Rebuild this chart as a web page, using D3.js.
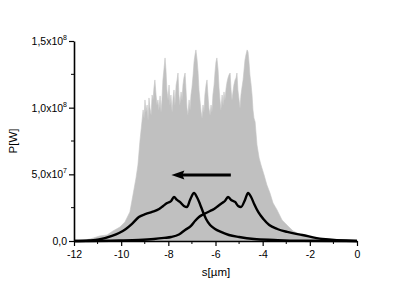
<!DOCTYPE html>
<html>
<head>
<meta charset="utf-8">
<script src="https://cdn.jsdelivr.net/npm/d3@7"></script>
<style>
  body { margin: 0; background: #fff; }
  text { font-family: "Liberation Sans", Arial, sans-serif; }
</style>
</head>
<body>
<div id="chart"></div>
<script>
/* global d3:false */
(function() {

// gray envelope of all single-shot traces: s [um], P [1e7 W]
var envS = [-11.75, -11.32, -10.90, -10.60, -10.35, -10.05, -9.84, -9.63, -9.50, -9.37, -9.29,
  -9.20, -9.12, -9.07, -9.03, -8.99, -8.95, -8.90, -8.86, -8.82, -8.78, -8.73, -8.69, -8.65, -8.61,
  -8.57, -8.52, -8.48, -8.44, -8.40, -8.35, -8.31, -8.27, -8.23, -8.18, -8.14, -8.10, -8.06, -8.01,
  -7.97, -7.93, -7.89, -7.84, -7.80, -7.76, -7.72, -7.67, -7.63, -7.59, -7.55, -7.51, -7.46, -7.42,
  -7.38, -7.34, -7.29, -7.25, -7.21, -7.17, -7.12, -7.08, -7.04, -7.00, -6.95, -6.91, -6.87, -6.83,
  -6.78, -6.74, -6.70, -6.66, -6.61, -6.57, -6.53, -6.49, -6.45, -6.40, -6.36, -6.32, -6.28, -6.23,
  -6.19, -6.15, -6.11, -6.06, -6.02, -5.98, -5.94, -5.89, -5.85, -5.81, -5.77, -5.72, -5.68, -5.64,
  -5.60, -5.55, -5.51, -5.47, -5.43, -5.38, -5.34, -5.30, -5.26, -5.22, -5.17, -5.13, -5.09, -5.05,
  -5.00, -4.96, -4.92, -4.88, -4.83, -4.79, -4.75, -4.71, -4.66, -4.62, -4.58, -4.54, -4.49, -4.45,
  -4.41, -4.37, -4.32, -4.24, -4.15, -4.07, -3.94, -3.82, -3.69, -3.56, -3.39, -3.18, -2.93, -2.71,
  -2.54, -2.29, -2.00, -1.57, -1.14, -0.51];
var envP = [0, 0.15, 0.38, 0.45, 0.75, 1.05, 1.43, 2.18, 3.45, 4.73, 5.70,
  7.58, 8.93, 9.83, 9.23, 10.58, 9.68, 10.20, 9.08, 10.73, 9.98, 9.45, 10.95, 10.58, 11.48,
  12.08, 10.95, 10.20, 10.58, 9.83, 10.88, 9.68, 10.58, 12.08, 12.98, 13.73, 12.83, 11.33, 10.58,
  11.70, 10.20, 10.95, 9.68, 10.73, 11.33, 10.20, 11.70, 12.08, 12.60, 10.95, 10.20, 11.18, 10.58,
  11.70, 12.23, 12.60, 11.33, 9.98, 9.45, 10.58, 9.83, 10.95, 11.48, 12.45, 13.43, 13.95, 14.33,
  13.58, 12.68, 11.33, 10.58, 9.68, 9.23, 10.20, 9.68, 10.95, 11.70, 12.08, 10.95, 9.98, 9.45,
  10.20, 9.68, 10.95, 11.70, 12.68, 13.43, 13.73, 12.83, 11.48, 10.58, 9.83, 10.95, 10.20, 11.18,
  10.58, 11.48, 11.93, 12.23, 12.45, 12.60, 11.33, 10.58, 11.18, 11.70, 12.08, 12.23, 12.60, 11.33,
  10.58, 9.98, 10.95, 11.48, 12.08, 12.83, 13.58, 13.95, 14.33, 14.18, 13.43, 12.45, 11.70, 10.95,
  9.83, 9.23, 8.93, 7.20, 6.23, 5.70, 4.95, 4.20, 3.60, 2.85, 2.33, 1.58, 1.13, 0.75,
  0.60, 0.45, 0.30, 0.15, 0.075, 0];

// averaged profile, earlier position (left), P [W]
var leftS = [-12.0, -11.36, -10.94, -10.39, -10.09, -9.80, -9.54, -9.25, -8.95, -8.69, -8.39, -8.22,
  -8.05, -7.88, -7.76, -7.63, -7.51, -7.34, -7.21, -7.08, -6.91, -6.79, -6.66, -6.53, -6.40, -6.23,
  -6.02, -5.77, -5.43, -5.00, -4.37, -3.52, -2.46, 0];
var leftP = [0, 0.04e7, 0.11e7, 0.38e7, 0.60e7, 0.90e7, 1.28e7, 1.80e7, 2.03e7, 2.18e7, 2.40e7,
  2.63e7, 2.85e7, 3.00e7, 3.30e7, 3.08e7, 2.93e7, 2.63e7, 2.55e7, 3.08e7, 3.60e7, 3.30e7, 2.78e7,
  2.18e7, 1.65e7, 1.20e7, 0.90e7, 0.68e7, 0.45e7, 0.30e7, 0.15e7, 0.08e7, 0.02e7, 0];
// averaged profile, later position (right), P [W]
var rightS = [-12.0, -10.09, -9.25, -8.61, -8.18, -7.88, -7.55, -7.29, -7.04, -6.87, -6.70, -6.57,
  -6.40, -6.23, -6.06, -5.89, -5.72, -5.60, -5.47, -5.34, -5.17, -5.04, -4.92, -4.75, -4.62, -4.49,
  -4.36, -4.19, -3.97, -3.72, -3.38, -2.96, -2.32, -1.47, 0];
var rightP = [0, 0.04e7, 0.08e7, 0.15e7, 0.23e7, 0.30e7, 0.49e7, 0.83e7, 1.13e7, 1.50e7, 1.80e7,
  1.95e7, 2.10e7, 2.25e7, 2.40e7, 2.63e7, 2.85e7, 3.00e7, 3.30e7, 3.08e7, 2.93e7, 2.63e7, 2.55e7,
  3.08e7, 3.60e7, 3.30e7, 2.78e7, 2.18e7, 1.65e7, 1.20e7, 0.90e7, 0.68e7, 0.45e7, 0.15e7, 0];

var xTicks = [-12, -10, -8, -6, -4, -2, 0];
var yTicks = [0, 5e7, 1e8, 1.5e8];
var yTickLabels = [["0,0", ""], ["5,0x10", "7"], ["1,0x10", "8"], ["1,5x10", "8"]];

var width = 415, height = 289;
var svg = d3.select("#chart").append("svg")
  .attr("width", width)
  .attr("height", height);

var x = d3.scaleLinear().domain([-12, 0]).range([74, 357]);
var y = d3.scaleLinear().domain([0, 1.5e8]).range([241, 41]);

/* gray traces */
var env = envS.map(function(s, i) { return [s, envP[i] * 1e7]; });
svg.append("path")
  .datum(env)
  .attr("fill", "#c0c0c0")
  .attr("stroke", "#c4c4c4")
  .attr("stroke-width", 0.6)
  .attr("d", d3.area()
    .x(function(d) { return x(d[0]); })
    .y0(y(0))
    .y1(function(d) { return y(d[1]); }));

/* black average curves */
var line = d3.line()
  .x(function(d) { return x(d[0]); })
  .y(function(d) { return y(d[1]); })
  .curve(d3.curveMonotoneX);
[[leftS, leftP], [rightS, rightP]].forEach(function(c) {
  svg.append("path")
    .datum(c[0].map(function(s, i) { return [s, c[1][i]]; }))
    .attr("fill", "none")
    .attr("stroke", "#000")
    .attr("stroke-width", 2.4)
    .attr("stroke-linejoin", "round")
    .attr("d", line);
});

/* arrow */
var arrowFrom = -5.35, arrowTo = -7.87, arrowP = 4.95e7;
svg.append("line")
  .attr("x1", x(arrowFrom)).attr("x2", x(arrowTo) + 10)
  .attr("y1", y(arrowP)).attr("y2", y(arrowP))
  .attr("stroke", "#000").attr("stroke-width", 3);
svg.append("path")
  .attr("d", "M" + x(arrowTo) + "," + y(arrowP) +
    "L" + (x(arrowTo) + 13) + "," + (y(arrowP) - 4.5) +
    "L" + (x(arrowTo) + 11) + "," + y(arrowP) +
    "L" + (x(arrowTo) + 13) + "," + (y(arrowP) + 4.5) + "Z")
  .attr("fill", "#000");

/* axes */
var xAxis = svg.append("g").attr("transform", "translate(0," + y(0) + ")")
  .call(d3.axisBottom(x).tickValues(xTicks).tickSize(5).tickSizeOuter(0)
    .tickFormat(function(d) { return d === 0 ? "0" : "-" + Math.abs(d); }));
xAxis.append("g").selectAll("line")
  .data(d3.range(-11, 0, 2)).enter().append("line")
  .attr("x1", x).attr("x2", x).attr("y1", 0).attr("y2", 3)
  .attr("stroke", "#000");

var yAxis = svg.append("g").attr("transform", "translate(" + x(-12) + ",0)")
  .call(d3.axisLeft(y).tickValues(yTicks).tickSize(5).tickSizeOuter(0).tickFormat(""));
yAxis.append("g").selectAll("line")
  .data([2.5e7, 7.5e7, 1.25e8]).enter().append("line")
  .attr("y1", y).attr("y2", y).attr("x1", 0).attr("x2", -3)
  .attr("stroke", "#000");

[xAxis, yAxis].forEach(function(a) {
  a.select(".domain").attr("stroke-width", 1.6);
  a.selectAll(".tick line").attr("stroke-width", 1.2);
});
xAxis.selectAll(".tick text")
  .attr("font-size", 10.5)
  .attr("font-family", "Liberation Sans, Arial, sans-serif")
  .attr("dy", "0.85em");

var yl = svg.append("g");
yTicks.forEach(function(v, i) {
  var t = yl.append("text")
    .attr("x", x(-12) - 7)
    .attr("y", y(v) + 4)
    .attr("text-anchor", "end")
    .attr("font-size", 10.5);
  t.append("tspan").text(yTickLabels[i][0]);
  if (yTickLabels[i][1]) {
    t.append("tspan").attr("dy", -5).attr("font-size", 7).text(yTickLabels[i][1]);
  }
});

/* axis titles */
svg.append("text")
  .attr("x", 216).attr("y", 276)
  .attr("text-anchor", "middle")
  .attr("font-size", 11.5)
  .text("s[\u00b5m]");
svg.append("text")
  .attr("transform", "translate(17,141) rotate(-90)")
  .attr("text-anchor", "middle")
  .attr("font-size", 11.5)
  .text("P[W]");

})();
</script>
</body>
</html>
